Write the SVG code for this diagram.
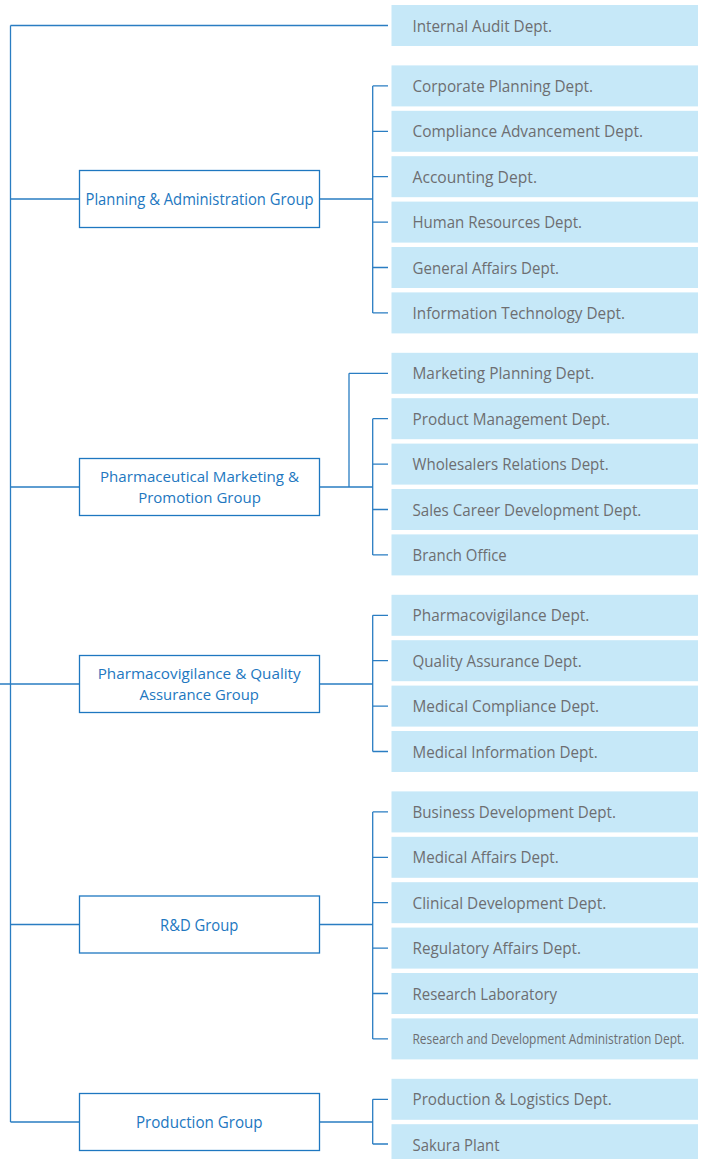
<svg xmlns="http://www.w3.org/2000/svg" width="702" height="1159" viewBox="0 0 702 1159">
<style>
.dept rect{fill:#c6e8f8}
.dept text{font-family:"Open Sans","Noto Sans",sans-serif;font-size:15.5px;fill:#6d6e71}
.grp rect{fill:#fff;stroke:#1e77c0;stroke-width:1.3}
.grp text{font-family:"Open Sans","Noto Sans",sans-serif;font-size:15.5px;fill:#2277bf;text-anchor:middle}
.grp text.two{font-size:15px}
#connectors path{fill:none;stroke:#2a7dc2;stroke-width:1.3}
</style>
<rect width="702" height="1159" fill="#fff"/>
<g id="connectors">
<path d="M10.5 25.5V1122M10.5 25.5H388M0 684H79.5"/>
<path d="M10.5 199H79.5M10.5 487H79.5M10.5 924.5H79.5M10.5 1122H79.5"/>
<path d="M319.5 199H372.7M372.7 85.9V312.9M372.7 85.9H388M372.7 131.3H388M372.7 176.7H388M372.7 222.1H388M372.7 267.5H388M372.7 312.9H388"/>
<path d="M319.5 487H372.7M349 373.3V487M349 373.3H388M372.7 418.7V554.9M372.7 418.7H388M372.7 464.1H388M372.7 509.5H388M372.7 554.9H388"/>
<path d="M319.5 684H372.7M372.7 615.3V751.5M372.7 615.3H388M372.7 660.7H388M372.7 706.1H388M372.7 751.5H388"/>
<path d="M319.5 924.5H372.7M372.7 811.9V1038.9M372.7 811.9H388M372.7 857.3H388M372.7 902.7H388M372.7 948.1H388M372.7 993.5H388M372.7 1038.9H388"/>
<path d="M319.5 1122H372.7M372.7 1099.3V1144M372.7 1099.3H388M372.7 1144H388"/>
</g>
<g id="grp-planning" class="grp"><rect x="79.5" y="170.5" width="240" height="57"/><text x="199.5" y="205" textLength="228" lengthAdjust="spacingAndGlyphs">Planning &amp; Administration Group</text></g>
<g id="grp-marketing" class="grp"><rect x="79.5" y="458.5" width="240" height="57"/><text class="two" x="199.5" y="482" textLength="199" lengthAdjust="spacingAndGlyphs">Pharmaceutical Marketing &amp;</text><text class="two" x="199.5" y="502.6" textLength="122.7" lengthAdjust="spacingAndGlyphs">Promotion Group</text></g>
<g id="grp-pv" class="grp"><rect x="79.5" y="655.5" width="240" height="57"/><text class="two" x="199.2" y="679.2" textLength="203" lengthAdjust="spacingAndGlyphs">Pharmacovigilance &amp; Quality</text><text class="two" x="199.2" y="699.8" textLength="119.4" lengthAdjust="spacingAndGlyphs">Assurance Group</text></g>
<g id="grp-rd" class="grp"><rect x="79.5" y="896" width="240" height="57"/><text x="199.2" y="931" textLength="78.3" lengthAdjust="spacingAndGlyphs">R&amp;D Group</text></g>
<g id="grp-production" class="grp"><rect x="79.5" y="1093.5" width="240" height="57"/><text x="199.3" y="1128.3" textLength="126.7" lengthAdjust="spacingAndGlyphs">Production Group</text></g>
<g id="d-internal-audit" class="dept"><rect x="391.5" y="5" width="306.5" height="41"/><text x="412.5" y="31.5" textLength="139.5" lengthAdjust="spacingAndGlyphs">Internal Audit Dept.</text></g>
<g id="d-corp-planning" class="dept"><rect x="391.5" y="65.4" width="306.5" height="41"/><text x="412.5" y="91.9" textLength="180.5" lengthAdjust="spacingAndGlyphs">Corporate Planning Dept.</text></g>
<g id="d-compliance" class="dept"><rect x="391.5" y="110.8" width="306.5" height="41"/><text x="412.5" y="137.3" textLength="230.5" lengthAdjust="spacingAndGlyphs">Compliance Advancement Dept.</text></g>
<g id="d-accounting" class="dept"><rect x="391.5" y="156.2" width="306.5" height="41"/><text x="412.5" y="182.7" textLength="124.5" lengthAdjust="spacingAndGlyphs">Accounting Dept.</text></g>
<g id="d-hr" class="dept"><rect x="391.5" y="201.6" width="306.5" height="41"/><text x="412.5" y="228.1" textLength="169.5" lengthAdjust="spacingAndGlyphs">Human Resources Dept.</text></g>
<g id="d-ga" class="dept"><rect x="391.5" y="247" width="306.5" height="41"/><text x="412.5" y="273.5" textLength="146.5" lengthAdjust="spacingAndGlyphs">General Affairs Dept.</text></g>
<g id="d-it" class="dept"><rect x="391.5" y="292.4" width="306.5" height="41"/><text x="412.5" y="318.9" textLength="212.5" lengthAdjust="spacingAndGlyphs">Information Technology Dept.</text></g>
<g id="d-mkt-planning" class="dept"><rect x="391.5" y="352.8" width="306.5" height="41"/><text x="412.5" y="379.3" textLength="181.8" lengthAdjust="spacingAndGlyphs">Marketing Planning Dept.</text></g>
<g id="d-product" class="dept"><rect x="391.5" y="398.2" width="306.5" height="41"/><text x="412.5" y="424.7" textLength="197.5" lengthAdjust="spacingAndGlyphs">Product Management Dept.</text></g>
<g id="d-wholesalers" class="dept"><rect x="391.5" y="443.6" width="306.5" height="41"/><text x="412.5" y="470.1" textLength="196.2" lengthAdjust="spacingAndGlyphs">Wholesalers Relations Dept.</text></g>
<g id="d-sales-career" class="dept"><rect x="391.5" y="489" width="306.5" height="41"/><text x="412.5" y="515.5" textLength="228.8" lengthAdjust="spacingAndGlyphs">Sales Career Development Dept.</text></g>
<g id="d-branch" class="dept"><rect x="391.5" y="534.4" width="306.5" height="41"/><text x="412.5" y="560.9" textLength="94.2" lengthAdjust="spacingAndGlyphs">Branch Office</text></g>
<g id="d-pv" class="dept"><rect x="391.5" y="594.8" width="306.5" height="41"/><text x="412.5" y="621.3" textLength="176.8" lengthAdjust="spacingAndGlyphs">Pharmacovigilance Dept.</text></g>
<g id="d-qa" class="dept"><rect x="391.5" y="640.2" width="306.5" height="41"/><text x="412.5" y="666.7" textLength="169.2" lengthAdjust="spacingAndGlyphs">Quality Assurance Dept.</text></g>
<g id="d-med-compliance" class="dept"><rect x="391.5" y="685.6" width="306.5" height="41"/><text x="412.5" y="712.1" textLength="186.5" lengthAdjust="spacingAndGlyphs">Medical Compliance Dept.</text></g>
<g id="d-med-info" class="dept"><rect x="391.5" y="731" width="306.5" height="41"/><text x="412.5" y="757.5" textLength="185.2" lengthAdjust="spacingAndGlyphs">Medical Information Dept.</text></g>
<g id="d-bizdev" class="dept"><rect x="391.5" y="791.4" width="306.5" height="41"/><text x="412.5" y="817.9" textLength="203.5" lengthAdjust="spacingAndGlyphs">Business Development Dept.</text></g>
<g id="d-med-affairs" class="dept"><rect x="391.5" y="836.8" width="306.5" height="41"/><text x="412.5" y="863.3" textLength="146.2" lengthAdjust="spacingAndGlyphs">Medical Affairs Dept.</text></g>
<g id="d-clinical" class="dept"><rect x="391.5" y="882.2" width="306.5" height="41"/><text x="412.5" y="908.7" textLength="193.8" lengthAdjust="spacingAndGlyphs">Clinical Development Dept.</text></g>
<g id="d-regulatory" class="dept"><rect x="391.5" y="927.6" width="306.5" height="41"/><text x="412.5" y="954.1" textLength="168.5" lengthAdjust="spacingAndGlyphs">Regulatory Affairs Dept.</text></g>
<g id="d-research-lab" class="dept"><rect x="391.5" y="973" width="306.5" height="41"/><text x="412.5" y="999.5" textLength="144.5" lengthAdjust="spacingAndGlyphs">Research Laboratory</text></g>
<g id="d-rd-admin" class="dept"><rect x="391.5" y="1018.4" width="306.5" height="41"/><text transform="translate(412.5 1044.4) scale(0.85 1)" x="0" y="0" textLength="319.8" lengthAdjust="spacingAndGlyphs" style="font-size:14.5px">Research and Development Administration Dept.</text></g>
<g id="d-prod-logistics" class="dept"><rect x="391.5" y="1078.8" width="306.5" height="41"/><text x="412.5" y="1105.3" textLength="199.2" lengthAdjust="spacingAndGlyphs">Production &amp; Logistics Dept.</text></g>
<g id="d-sakura" class="dept"><rect x="391.5" y="1124.2" width="306.5" height="41"/><text x="412.5" y="1150.7" textLength="87" lengthAdjust="spacingAndGlyphs">Sakura Plant</text></g>
</svg>
